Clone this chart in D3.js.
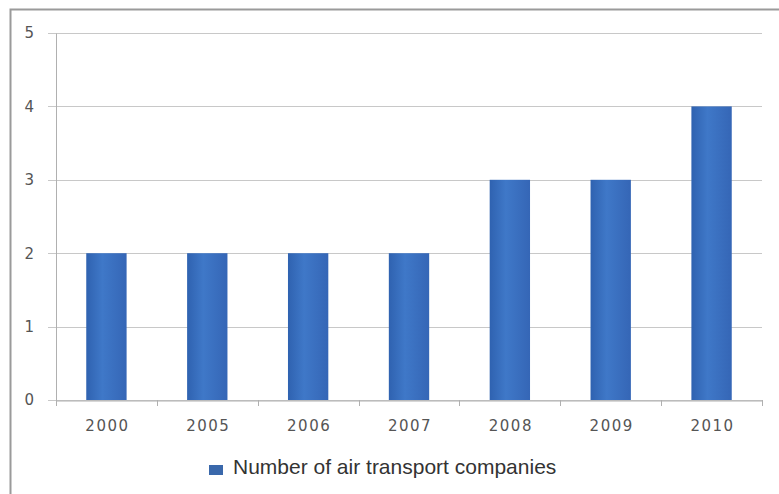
<!DOCTYPE html>
<html><head><meta charset="utf-8">
<script src="https://cdn.jsdelivr.net/npm/d3@7"></script>
<style>body{margin:0;background:#fff}svg{display:block}</style>
</head><body><svg id="c" width="779" height="494"></svg>
<script>
const categories = ["2000","2005","2006","2007","2008","2009","2010"];
const values = [2,2,2,2,3,3,4];
const yTicks = [0,1,2,3,4,5];
const seriesName = "Number of air transport companies";

const svg = d3.select("#c");
// frame
svg.append("rect").attr("x",10.5).attr("y",9.5).attr("width",780).attr("height",500)
  .attr("fill","#fff").attr("stroke","#9a9a9a").attr("stroke-width",2);

const L=56, R=762, T=33, B=400;
const x = d3.scaleBand().domain(categories).range([L,R]).paddingInner(0.6).paddingOuter(0.3);
const y = d3.scaleLinear().domain([0,5]).range([B,T]);

// gridlines
svg.append("g").selectAll("line").data(yTicks).join("line")
  .attr("x1",48).attr("x2",R).attr("y1",d=>Math.round(y(d))+0.5).attr("y2",d=>Math.round(y(d))+0.5)
  .attr("stroke","#c8c8c8").attr("stroke-width",1);

// y axis
const ya = svg.append("g").attr("transform",`translate(${L},0)`)
  .call(d3.axisLeft(y).tickValues(yTicks).tickSize(0).tickPadding(22).tickFormat(d3.format("d")));
ya.select(".domain").attr("stroke","#b0b0b0");
ya.selectAll("text").attr("font-family","DejaVu Sans, sans-serif").attr("font-size",15).attr("fill","#555");

// bars
const grad = svg.append("defs").append("linearGradient").attr("id","g").attr("x1",0).attr("x2",1);
grad.append("stop").attr("offset","0%").attr("stop-color","#2f62b0");
grad.append("stop").attr("offset","40%").attr("stop-color","#3f78c8");
grad.append("stop").attr("offset","100%").attr("stop-color","#3566b6");
svg.append("g").selectAll("rect").data(values).join("rect")
  .attr("x",(d,i)=>x(categories[i])).attr("width",x.bandwidth())
  .attr("y",d=>y(d)).attr("height",d=>B-y(d)).attr("fill","url(#g)");

// x axis
const xa = svg.append("g").attr("transform",`translate(0,${B+0.5})`)
  .call(d3.axisBottom(x).tickSize(0).tickPadding(20));
xa.select(".domain").attr("stroke","#b0b0b0");
xa.selectAll("text").attr("font-family","DejaVu Sans, sans-serif").attr("font-size",15)
  .attr("letter-spacing",1.5).attr("dx",1).attr("fill","#555");
// boundary tick marks
const bounds = d3.range(categories.length+1).map(i=>L+i*(R-L)/categories.length);
svg.append("g").selectAll("line").data(bounds).join("line")
  .attr("x1",d=>Math.round(d)+0.5).attr("x2",d=>Math.round(d)+0.5)
  .attr("y1",B).attr("y2",B+6).attr("stroke","#b0b0b0");

// legend
const lg = svg.append("g").attr("transform","translate(209,465)");
lg.append("rect").attr("x",0).attr("y",0).attr("width",14).attr("height",10).attr("fill","#3a68ab");
lg.append("text").attr("x",24).attr("y",3).attr("dominant-baseline","middle")
  .attr("font-family","Liberation Sans, Arial, sans-serif")
  .attr("font-size",21).attr("fill","#333").text(seriesName);
</script></body></html>
